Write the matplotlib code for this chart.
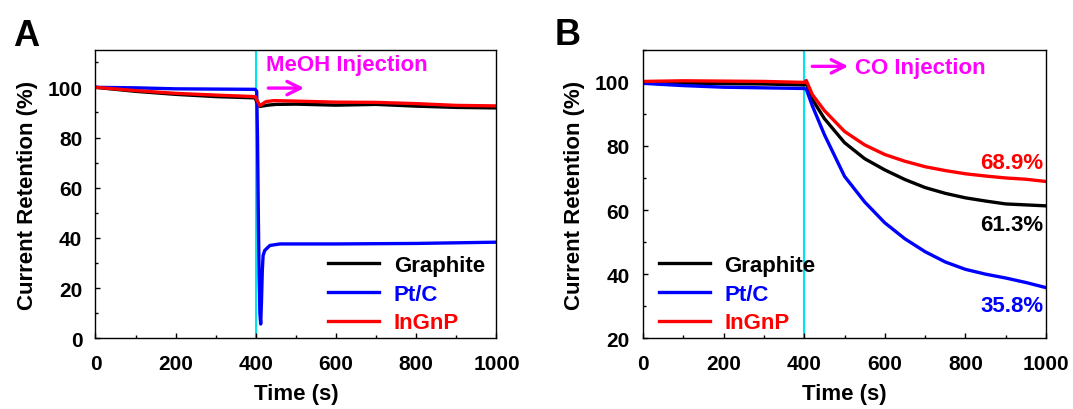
import matplotlib
matplotlib.use('Agg')
import matplotlib.pyplot as plt
from matplotlib.ticker import MultipleLocator

plt.rcParams['font.family'] = ['Liberation Sans', 'DejaVu Sans']
plt.rcParams['font.weight'] = 'bold'

# ---- panel A: MeOH injection ----
t_a_graphite = [0, 100, 200, 300, 398, 403, 410, 430, 450, 500, 600, 700, 800, 900, 1000]
graphite_a = [100, 98.4, 97.2, 96.3, 95.8, 93.8, 92.4, 92.9, 93.2, 93.3, 92.9, 93.2, 92.5, 92.0, 91.8]

t_a_ptc = [0, 100, 200, 300, 398, 402, 404, 406, 408, 410, 412, 414, 416, 418, 422, 435, 460, 600, 800, 1000]
ptc_a = [100, 99.8, 99.4, 99.3, 99.2, 98.5, 80, 50, 25, 10, 5.7, 15, 27, 33, 35, 37, 37.6, 37.6, 37.8, 38.3]

t_a_ingnp = [0, 100, 200, 300, 398, 403, 410, 425, 445, 500, 600, 700, 800, 900, 1000]
ingnp_a = [100, 98.7, 97.6, 96.9, 96.3, 94.8, 92.7, 94.3, 94.7, 94.5, 94.1, 94.0, 93.5, 92.8, 92.6]

# ---- panel B: CO injection ----
t_b = [0, 100, 200, 300, 400, 405, 420, 450, 500, 550, 600, 650, 700, 750, 800, 850, 900, 950, 1000]
graphite_b = [100, 99.6, 99.4, 99.3, 99.0, 99.5, 94.5, 88.5, 81.0, 76.0, 72.5, 69.5, 67.0, 65.2, 63.8, 62.8, 61.9, 61.6, 61.3]
ptc_b = [99.5, 98.8, 98.3, 98.1, 97.9, 97.7, 92.5, 83.5, 70.5, 62.5, 56.0, 51.0, 47.0, 43.8, 41.5, 40.0, 38.8, 37.4, 35.8]
ingnp_b = [100.1, 100.3, 100.2, 100.1, 99.8, 100.4, 96.0, 91.0, 84.5, 80.3, 77.3, 75.2, 73.5, 72.3, 71.3, 70.6, 70.0, 69.6, 68.9]

names = ['Graphite', 'Pt/C', 'InGnP']
colors = ['black', '#0000ff', '#ff0000']
final_labels = ['61.3%', '35.8%', '68.9%']
label_y = [55.6, 30.2, 74.8]

fs_tick = 15
fs = 16
fig = plt.figure(figsize=(10.73, 4.10), dpi=100)
axA = fig.add_axes([0.089, 0.1724, 0.3737, 0.704])
axB = fig.add_axes([0.5993, 0.1724, 0.3756, 0.704])


def style(ax, ylo, yhi):
    ax.set_xlim(0, 1000)
    ax.set_ylim(ylo, yhi)
    ax.xaxis.set_major_locator(MultipleLocator(200))
    ax.xaxis.set_minor_locator(MultipleLocator(100))
    ax.yaxis.set_major_locator(MultipleLocator(20))
    ax.yaxis.set_minor_locator(MultipleLocator(10))
    ax.tick_params(which='both', direction='in', labelsize=fs_tick, width=1.0)
    ax.tick_params(which='major', length=3.5)
    ax.tick_params(which='minor', length=2.5)
    ax.tick_params(axis='x', which='major', pad=11.5)
    ax.tick_params(axis='y', which='major', pad=9.5)
    for s in ax.spines.values():
        s.set_linewidth(1.0)
    ax.set_xlabel('Time (s)', fontsize=fs, fontweight='bold', labelpad=7)
    ax.set_ylabel('Current Retention (%)', fontsize=fs, fontweight='bold', labelpad=7)
    ax.axvline(400, color='#00e5ee', lw=1.5, zorder=1)


def legend(ax, x0):
    leg = ax.legend(loc='upper left', bbox_to_anchor=(x0, 0.289), frameon=False, fontsize=fs,
                    handlelength=2.3, handletextpad=0.65, labelspacing=0.35, borderpad=0, borderaxespad=0)
    for txt, c in zip(leg.get_texts(), colors):
        txt.set_color(c)


# panel A
style(axA, 0, 115)
axA.plot(t_a_graphite, graphite_a, color=colors[0], lw=2.4, label=names[0])
axA.plot(t_a_ptc, ptc_a, color=colors[1], lw=2.4, label=names[1])
axA.plot(t_a_ingnp, ingnp_a, color=colors[2], lw=2.4, label=names[2])
axA.text(425, 109, 'MeOH Injection', color='#ff00ff', fontsize=fs, fontweight='bold', va='center')
axA.annotate('', xy=(527, 99.7), xytext=(424, 99.7),
             arrowprops=dict(arrowstyle='->', color='#ff00ff', lw=2.4, mutation_scale=24))
legend(axA, 0.5805)
fig.text(0.0118, 1 - 45.7 / 410, 'A', fontsize=26, fontweight='bold', va='baseline')

# panel B
style(axB, 20, 110)
axB.plot(t_b, graphite_b, color=colors[0], lw=2.4, label=names[0])
axB.plot(t_b, ptc_b, color=colors[1], lw=2.4, label=names[1])
axB.plot(t_b, ingnp_b, color=colors[2], lw=2.4, label=names[2])
axB.text(527, 104.5, 'CO Injection', color='#ff00ff', fontsize=fs, fontweight='bold', va='center')
axB.annotate('', xy=(516, 104.8), xytext=(413, 104.8),
             arrowprops=dict(arrowstyle='->', color='#ff00ff', lw=2.4, mutation_scale=24))
for lab, yv, c in zip(final_labels, label_y, colors):
    axB.text(993, yv, lab, color=c, fontsize=fs, fontweight='bold', ha='right', va='center')
legend(axB, 0.0395)
fig.text(0.5168, 1 - 45 / 410, 'B', fontsize=26, fontweight='bold', va='baseline')

fig.savefig('out.png', dpi=100)
